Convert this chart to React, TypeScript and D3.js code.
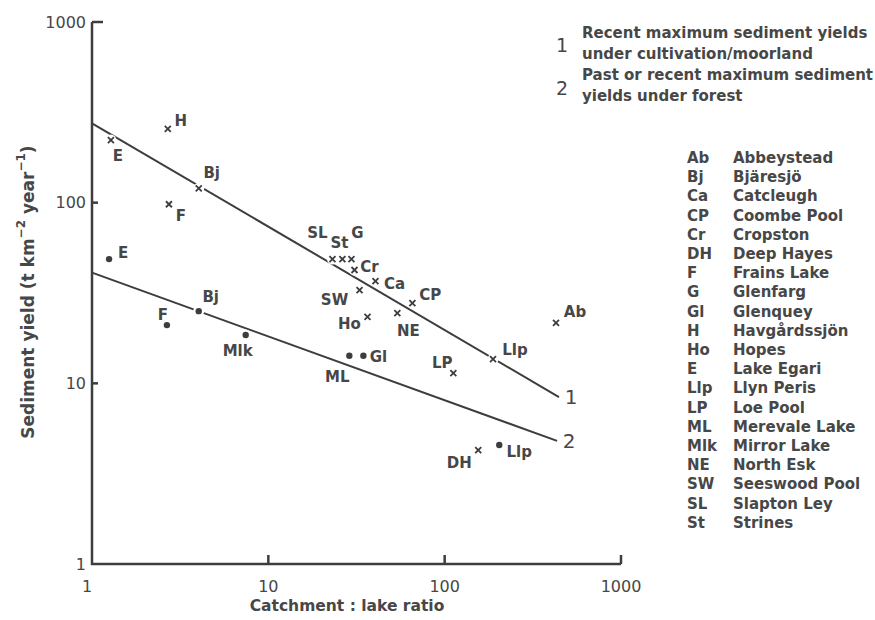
import React from "react";
import * as d3 from "d3";

// crosses: recent maximum yields under cultivation / moorland
const cultivationCodes = ["E", "H", "Bj", "F", "SL", "St", "G", "Cr", "Ca", "SW", "CP", "Ho", "NE", "Llp", "Ab", "LP", "DH"];
const cultivationRatio = [1.28, 2.69, 4.03, 2.73, 23.1, 26.3, 29.6, 30.8, 40.5, 32.9, 65.6, 36.5, 53.9, 188, 428, 112, 155];
const cultivationYield = [222, 256, 120, 98, 48.7, 48.7, 48.7, 42.4, 36.8, 32.8, 27.8, 23.3, 24.5, 13.6, 21.6, 11.4, 4.27];

// dots: past or recent maximum yields under forest
const forestCodes = ["E", "F", "Bj", "Mlk", "ML", "Gl", "Llp"];
const forestRatio = [1.25, 2.66, 4.03, 7.44, 28.8, 34.6, 204];
const forestYield = [48.7, 21.0, 25.1, 18.5, 14.2, 14.2, 4.56];

// the two fitted envelope lines
const lineIds = ["1", "2"];
const lineRatio = [[1, 445], [1, 434]];
const lineYield = [[275, 8.4], [41, 4.8]];

const tickValues = [1, 10, 100, 1000];

const lineDescriptions = [
  ["Recent maximum sediment yields", "under cultivation/moorland"],
  ["Past or recent maximum sediment", "yields under forest"],
];

const legendCodes = ["Ab", "Bj", "Ca", "CP", "Cr", "DH", "F", "G", "Gl", "H", "Ho", "E", "Llp", "LP", "ML", "Mlk", "NE", "SW", "SL", "St"];
const legendNames = [
  "Abbeystead", "Bjäresjö", "Catcleugh", "Coombe Pool", "Cropston", "Deep Hayes", "Frains Lake",
  "Glenfarg", "Glenquey", "Havgårdssjön", "Hopes", "Lake Egari", "Llyn Peris", "Loe Pool",
  "Merevale Lake", "Mirror Lake", "North Esk", "Seeswood Pool", "Slapton Ley", "Strines",
];

// label placement (pixels from the marker)
const crossLabelOffset: Record<string, [number, number]> = {
  E: [7, 16], H: [13, -8], Bj: [13, -15], F: [12, 12], SL: [-15, -26], St: [-3, -16],
  G: [6, -26], Cr: [15, -3], Ca: [19, 3], SW: [-25, 10], CP: [18, -8], Ho: [-18, 7],
  NE: [11, 18], Llp: [22, -9], Ab: [19, -11], LP: [-11, -10], DH: [-19, 13],
};
const dotLabelOffset: Record<string, [number, number]> = {
  E: [14, -6], F: [-4, -10], Bj: [12, -14], Mlk: [-8, 16], ML: [-12, 21], Gl: [15, 1], Llp: [20, 7],
};

const W = 875;
const H = 620;
const ink = "#3d3d3d";
const textInk = "#474747";
const font = "DejaVu Sans, sans-serif";

export default function App() {
  const x = d3.scaleLog().domain([1, 1000]).range([92, 621]);
  const y = d3.scaleLog().domain([1, 1000]).range([564, 22]);
  const line = d3
    .line<[number, number]>()
    .x((d) => x(d[0]))
    .y((d) => y(d[1]));

  const crosses = cultivationCodes.map((c, i) => ({ code: c, px: x(cultivationRatio[i]), py: y(cultivationYield[i]) }));
  const dots = forestCodes.map((c, i) => ({ code: c, px: x(forestRatio[i]), py: y(forestYield[i]) }));

  return (
    <svg
      width={W}
      height={H}
      style={{ position: "absolute", left: 0, top: 0, background: "#fff" }}
      fontFamily={font}
      fontWeight="bold"
      fill={textInk}
    >
      {/* envelope lines */}
      {lineIds.map((id, i) => {
        const pts = lineRatio[i].map((r, j) => [r, lineYield[i][j]] as [number, number]);
        const end = pts[pts.length - 1];
        return (
          <g key={id}>
            <path d={line(pts) ?? ""} fill="none" stroke={ink} strokeWidth={2} />
            <text x={x(end[0]) + 12} y={y(end[1])} fontSize={20} fontWeight="normal" textAnchor="middle" dominantBaseline="central">
              {id}
            </text>
          </g>
        );
      })}

      {/* white halos break the lines at the markers */}
      {[...crosses, ...dots].map((p, i) => (
        <circle key={"h" + i} cx={p.px} cy={p.py} r={5.5} fill="#fff" />
      ))}

      {crosses.map((p) => (
        <g key={"c" + p.code}>
          <path
            d={`M${p.px - 3},${p.py - 3}L${p.px + 3},${p.py + 3}M${p.px - 3},${p.py + 3}L${p.px + 3},${p.py - 3}`}
            stroke={ink}
            strokeWidth={1.8}
          />
          <text
            x={p.px + crossLabelOffset[p.code][0]}
            y={p.py + crossLabelOffset[p.code][1]}
            fontSize={15}
            textAnchor="middle"
            dominantBaseline="central"
          >
            {p.code}
          </text>
        </g>
      ))}

      {dots.map((p) => (
        <g key={"d" + p.code}>
          <circle cx={p.px} cy={p.py} r={3.2} fill={ink} />
          <text
            x={p.px + dotLabelOffset[p.code][0]}
            y={p.py + dotLabelOffset[p.code][1]}
            fontSize={15}
            textAnchor="middle"
            dominantBaseline="central"
          >
            {p.code}
          </text>
        </g>
      ))}

      {/* axes */}
      <path d={`M${x(1)},${y(1000)}V${y(1)}H${x(1000)}`} fill="none" stroke={ink} strokeWidth={2.5} />
      {tickValues.slice(1).map((t) => (
        <g key={"t" + t}>
          <line x1={x(1)} x2={x(1) + (t === 1000 ? 11 : 6)} y1={y(t)} y2={y(t)} stroke={ink} strokeWidth={2.5} />
          <line x1={x(t)} x2={x(t)} y1={y(1)} y2={y(1) - 9} stroke={ink} strokeWidth={2.5} />
        </g>
      ))}
      {tickValues.map((t) => (
        <text key={"yl" + t} x={x(1) - 6} y={y(t)} fontSize={16} fontWeight="normal" textAnchor="end" dominantBaseline="central">
          {t}
        </text>
      ))}
      {tickValues.map((t) => (
        <text key={"xl" + t} x={x(t) - (t === 1 ? 5 : 0)} y={y(1) + 22} fontSize={16} fontWeight="normal" textAnchor="middle" dominantBaseline="central">
          {t}
        </text>
      ))}

      <text x={347} y={606} fontSize={15.5} textAnchor="middle" dominantBaseline="central">
        Catchment : lake ratio
      </text>
      <text transform={`translate(28,${y(32)}) rotate(-90)`} fontSize={17} textAnchor="middle" dominantBaseline="central">
        Sediment yield (t km
        <tspan dy={-7} fontSize={12}>−2</tspan>
        <tspan dy={7}> year</tspan>
        <tspan dy={-7} fontSize={12}>−1</tspan>
        <tspan dy={7}>)</tspan>
      </text>

      {/* line descriptions */}
      {lineDescriptions.map((rows, i) => (
        <g key={"ld" + i}>
          <text x={562} y={i === 0 ? 45 : 88} fontSize={19} fontWeight="normal" textAnchor="middle" dominantBaseline="central">
            {lineIds[i]}
          </text>
          {rows.map((r, j) => (
            <text key={j} x={582} y={(i === 0 ? 33 : 75) + j * 21} fontSize={15} dominantBaseline="central">
              {r}
            </text>
          ))}
        </g>
      ))}

      {/* site key */}
      {legendCodes.map((c, i) => (
        <g key={"k" + c}>
          <text x={687} y={158 + i * 19.2} fontSize={15} dominantBaseline="central">
            {c}
          </text>
          <text x={733} y={158 + i * 19.2} fontSize={15} dominantBaseline="central">
            {legendNames[i]}
          </text>
        </g>
      ))}
    </svg>
  );
}
